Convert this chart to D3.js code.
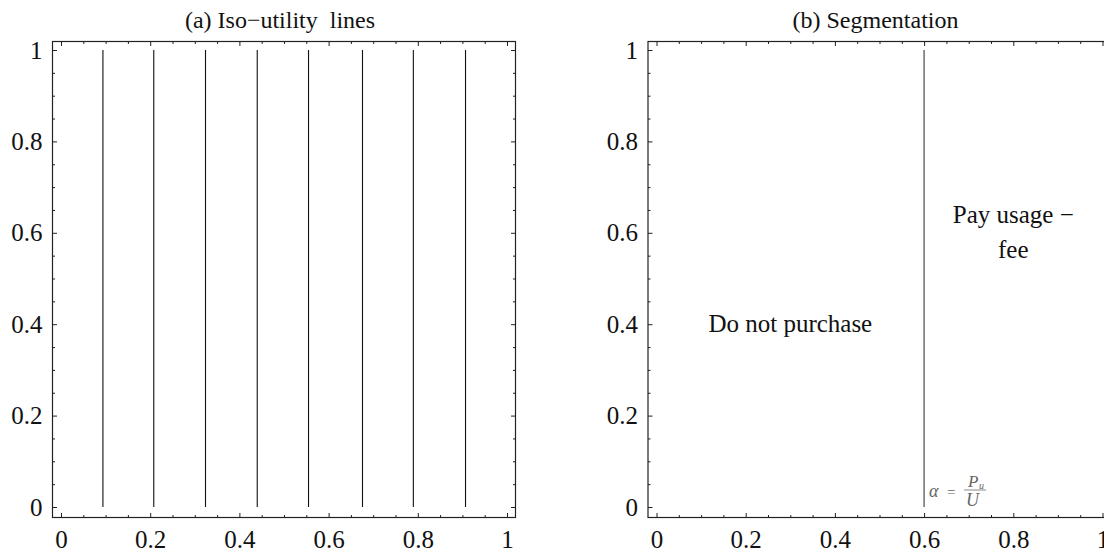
<!DOCTYPE html>
<html>
<head>
<meta charset="utf-8">
<script src="https://d3js.org/d3.v7.min.js"></script>
<style>
  body { margin: 0; background: #fff; }
  svg text { font-family: "Times New Roman", "Liberation Serif", Times, serif; }
</style>
</head>
<body>
<script>
// values
const isoLines = [0.094, 0.208, 0.324, 0.44, 0.555, 0.676, 0.79, 0.907];
const cutoff = [0.6];
const majorTicks = [0, 0.2, 0.4, 0.6, 0.8, 1];
const tickLabels = ["0", "0.2", "0.4", "0.6", "0.8", "1"];
const minorTicks = [0.05, 0.1, 0.15, 0.25, 0.3, 0.35, 0.45, 0.5, 0.55,
                    0.65, 0.7, 0.75, 0.85, 0.9, 0.95];
const titles = ["(a) Iso\u2212utility  lines", "(b) Segmentation"];
const regionLabels = [
  {x: 0.3, y: 0.4, lines: ["Do not purchase"]},
  {x: 0.8, y: 0.6, lines: ["Pay usage \u2212", "fee"]}
];

const serif = '"Times New Roman", "Liberation Serif", Times, serif';
const width = 1104, height = 554;
const svg = d3.select('body').append('svg')
    .attr('width', width)
    .attr('height', height);

const y = d3.scaleLinear().domain([0, 1]).range([507, 50]);
const pad = 8.5;

function drawPanel(left, title) {
  const x = d3.scaleLinear().domain([0, 1]).range([left, left + 446]);
  const g = svg.append('g');
  const x0 = x.range()[0] - pad, x1 = x.range()[1] + pad;
  const y0 = y.range()[0] + 10.5, y1 = y.range()[1] - pad;

  g.append('rect')
      .attr('x', x0).attr('y', y1)
      .attr('width', x1 - x0).attr('height', y0 - y1)
      .attr('fill', 'none')
      .attr('stroke', '#222')
      .attr('stroke-width', 1.2);

  const fmt = (d) => tickLabels[majorTicks.indexOf(d)];

  // labelled axes, inward ticks
  const bottom = d3.axisBottom(x).tickValues(majorTicks).tickFormat(fmt)
      .tickSizeInner(-4.5).tickSizeOuter(0).tickPadding(13);
  const leftAx = d3.axisLeft(y).tickValues(majorTicks).tickFormat(fmt)
      .tickSizeInner(-4.5).tickSizeOuter(0).tickPadding(10);
  const top = d3.axisTop(x).tickValues(majorTicks).tickFormat('')
      .tickSizeInner(-4.5).tickSizeOuter(0);
  const right = d3.axisRight(y).tickValues(majorTicks).tickFormat('')
      .tickSizeInner(-4.5).tickSizeOuter(0);

  const axes = [
    [bottom, 'translate(0,' + y0 + ')', d3.axisBottom(x)],
    [leftAx, 'translate(' + x0 + ',0)', d3.axisLeft(y)],
    [top, 'translate(0,' + y1 + ')', d3.axisTop(x)],
    [right, 'translate(' + x1 + ',0)', d3.axisRight(y)]
  ];
  axes.forEach(([ax, tr, minor]) => {
    const a = g.append('g').attr('transform', tr).call(ax)
        .attr('font-family', serif);
    a.select('.domain').remove();
    a.selectAll('line').attr('stroke', '#222');
    a.selectAll('text')
        .attr('font-size', 25)
        .attr('fill', '#111');
    const m = g.append('g').attr('transform', tr)
        .call(minor.tickValues(minorTicks).tickFormat('')
            .tickSizeInner(-2.5).tickSizeOuter(0));
    m.select('.domain').remove();
    m.selectAll('line').attr('stroke', '#222');
  });

  g.append('text')
      .attr('x', x(0.5) - 4)
      .attr('y', 28)
      .attr('text-anchor', 'middle')
      .attr('font-size', 24)
      .attr('font-family', serif)
      .attr('fill', '#111')
      .style('white-space', 'pre')
      .text(title);

  return {g, x};
}

// panel a: iso-utility lines
const a = drawPanel(61, titles[0]);
a.g.selectAll('.iso')
    .data(isoLines)
    .enter()
    .append('line')
    .attr('class', 'iso')
    .attr('x1', (d) => a.x(d)).attr('x2', (d) => a.x(d))
    .attr('y1', y(0)).attr('y2', y(1))
    .attr('stroke', '#111')
    .attr('stroke-width', 1.1);

// panel b: segmentation
const b = drawPanel(656.5, titles[1]);
b.g.selectAll('.cut')
    .data(cutoff)
    .enter()
    .append('line')
    .attr('class', 'cut')
    .attr('x1', (d) => b.x(d)).attr('x2', (d) => b.x(d))
    .attr('y1', y(0)).attr('y2', y(1))
    .attr('stroke', '#777')
    .attr('stroke-width', 1.6);

regionLabels.forEach((r) => {
  const t = b.g.append('text')
      .attr('text-anchor', 'middle')
      .attr('font-size', 25)
      .attr('font-family', serif)
      .attr('fill', '#111');
  const n = r.lines.length;
  r.lines.forEach((s, i) => {
    t.append('tspan')
        .attr('x', b.x(r.x))
        .attr('y', y(r.y) + 8 + (i - (n - 1) / 2) * 35)
        .text(s);
  });
});

// alpha = P_u / U, set next to the cutoff line
const ax = b.x(cutoff[0]), ay = y(0);
const sans = '"DejaVu Sans", "Noto Sans", sans-serif';
const ital = '"DejaVu Serif", serif';
const lab = b.g.append('g').attr('fill', '#666');
lab.append('text').attr('x', ax + 5).attr('y', ay - 10)
    .attr('font-size', 18).attr('font-style', 'italic')
    .attr('font-family', sans).text('\u03b1');
lab.append('text').attr('x', ax + 23).attr('y', ay - 10)
    .attr('font-size', 15).attr('font-family', sans).text('=');
lab.append('line')
    .attr('x1', ax + 40).attr('x2', ax + 62)
    .attr('y1', ay - 17).attr('y2', ay - 17)
    .attr('stroke', '#888').attr('stroke-width', 1);
lab.append('text').attr('x', ax + 44).attr('y', ay - 20)
    .attr('font-size', 17).attr('font-style', 'italic')
    .attr('font-family', ital).text('P');
lab.append('text').attr('x', ax + 55).attr('y', ay - 18)
    .attr('font-size', 10).attr('font-style', 'italic')
    .attr('font-family', ital).text('u');
lab.append('text').attr('x', ax + 42).attr('y', ay - 1)
    .attr('font-size', 18).attr('font-style', 'italic')
    .attr('font-family', ital).text('U');
</script>
</body>
</html>
